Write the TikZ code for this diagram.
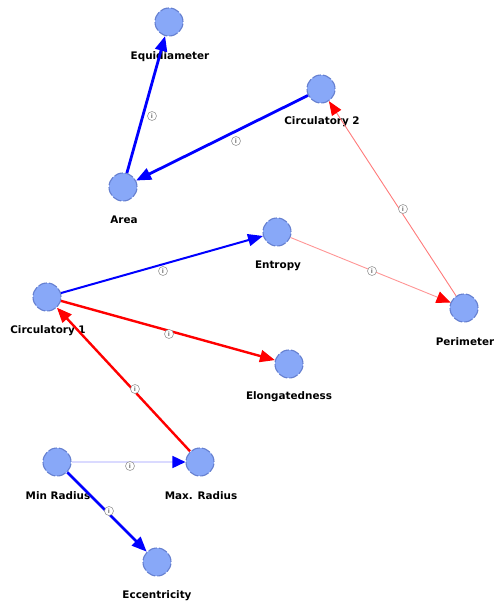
\documentclass[tikz,border=0pt]{standalone}
\usepackage{fontspec}
\setmainfont{DejaVu Sans}
\usetikzlibrary{arrows.meta}
\definecolor{nodefill}{HTML}{88A8F8}
\definecolor{nodeline}{HTML}{6680D0}
\definecolor{lightred}{HTML}{FF7A7A}
\definecolor{paleblue}{HTML}{DADAFF}
\tikzset{
  vert/.style={circle, fill=nodefill, draw=nodeline, line width=1.1pt, dash pattern=on 9pt off 2pt, minimum size=28pt, inner sep=0pt},
  lab/.style={font=\fontsize{10.4}{12}\selectfont\bfseries, inner sep=0pt, text=black},
  bigtip/.style={-{Triangle[length=15pt,width=12pt]}},
  blueedge/.style={bigtip, draw=blue, line width=2.8pt},
  blueedgemid/.style={bigtip, draw=blue, line width=2pt},
  rededge/.style={bigtip, draw=red, line width=2.4pt},
  thinred/.style={draw=lightred, line width=0.9pt},
  infoicon/.style={circle, draw=gray!80, fill=white, line width=0.6pt, minimum size=9pt, inner sep=0pt,
    font=\fontsize{6}{6}\selectfont\bfseries, text=gray!90!black,
    append after command={[draw=gray!80, line width=0.6pt] (\tikzlastnode.south) -- ++(0,2.5)}}
}
\begin{document}
\begin{tikzpicture}[x=1pt,y=-1pt]
\useasboundingbox (0,0) rectangle (493,604);
% vertices
\node[vert] (equi) at (169,22) {};
\node[vert] (circ2) at (321,89) {};
\node[vert] (area) at (123,187) {};
\node[vert] (entropy) at (277,232) {};
\node[vert] (circ1) at (47,297) {};
\node[vert] (perim) at (464,308) {};
\node[vert] (elong) at (289,364) {};
\node[vert] (minr) at (57,462) {};
\node[vert] (maxr) at (200,462) {};
\node[vert] (ecc) at (157,562) {};
% labels
\node[lab] (equi-l) at (170,57) {Equidiameter};
\node[lab] (circ2-l) at (322,122) {Circulatory 2};
\node[lab] (area-l) at (124,220) {Area};
\node[lab] (entropy-l) at (278,266) {Entropy};
\node[lab] (circ1-l) at (48,331) {Circulatory 1};
\node[lab] (perim-l) at (465,342) {Perimeter};
\node[lab] (elong-l) at (289,397) {Elongatedness};
\node[lab] (minr-l) at (58,496) {Min Radius};
\node[lab] (maxr-l) at (201,496) {Max. Radius};
\node[lab] (ecc-l) at (157,596) {Eccentricity};
% edges
\draw[blueedge] (area) -- (equi);
\draw[blueedge] (circ2) -- (area);
\draw[thinred, -{Triangle[length=14pt,width=11pt,color=red]}] (perim) -- (circ2);
\draw[thinred, draw=lightred!80, -{Triangle[length=14pt,width=12pt,color=red]}] (entropy) -- (perim);
\draw[blueedgemid] (circ1) -- (entropy);
\draw[rededge] (circ1) -- (elong);
\draw[rededge] (maxr) -- (circ1);
\draw[line width=1.6pt, draw=paleblue, -{Triangle[length=13pt,width=12pt,color=blue]}] (minr) -- (maxr);
\draw[blueedge] (minr) -- (ecc);
% info icons
\node[infoicon] (i1) at (152,116) {i};
\node[infoicon] (i2) at (236,141) {i};
\node[infoicon] (i3) at (403,209) {i};
\node[infoicon] (i4) at (372,271) {i};
\node[infoicon] (i5) at (163,271) {i};
\node[infoicon] (i6) at (169,334) {i};
\node[infoicon] (i7) at (135,389) {i};
\node[infoicon] (i8) at (130,466) {i};
\node[infoicon] (i9) at (109,511) {i};
\end{tikzpicture}
\end{document}
